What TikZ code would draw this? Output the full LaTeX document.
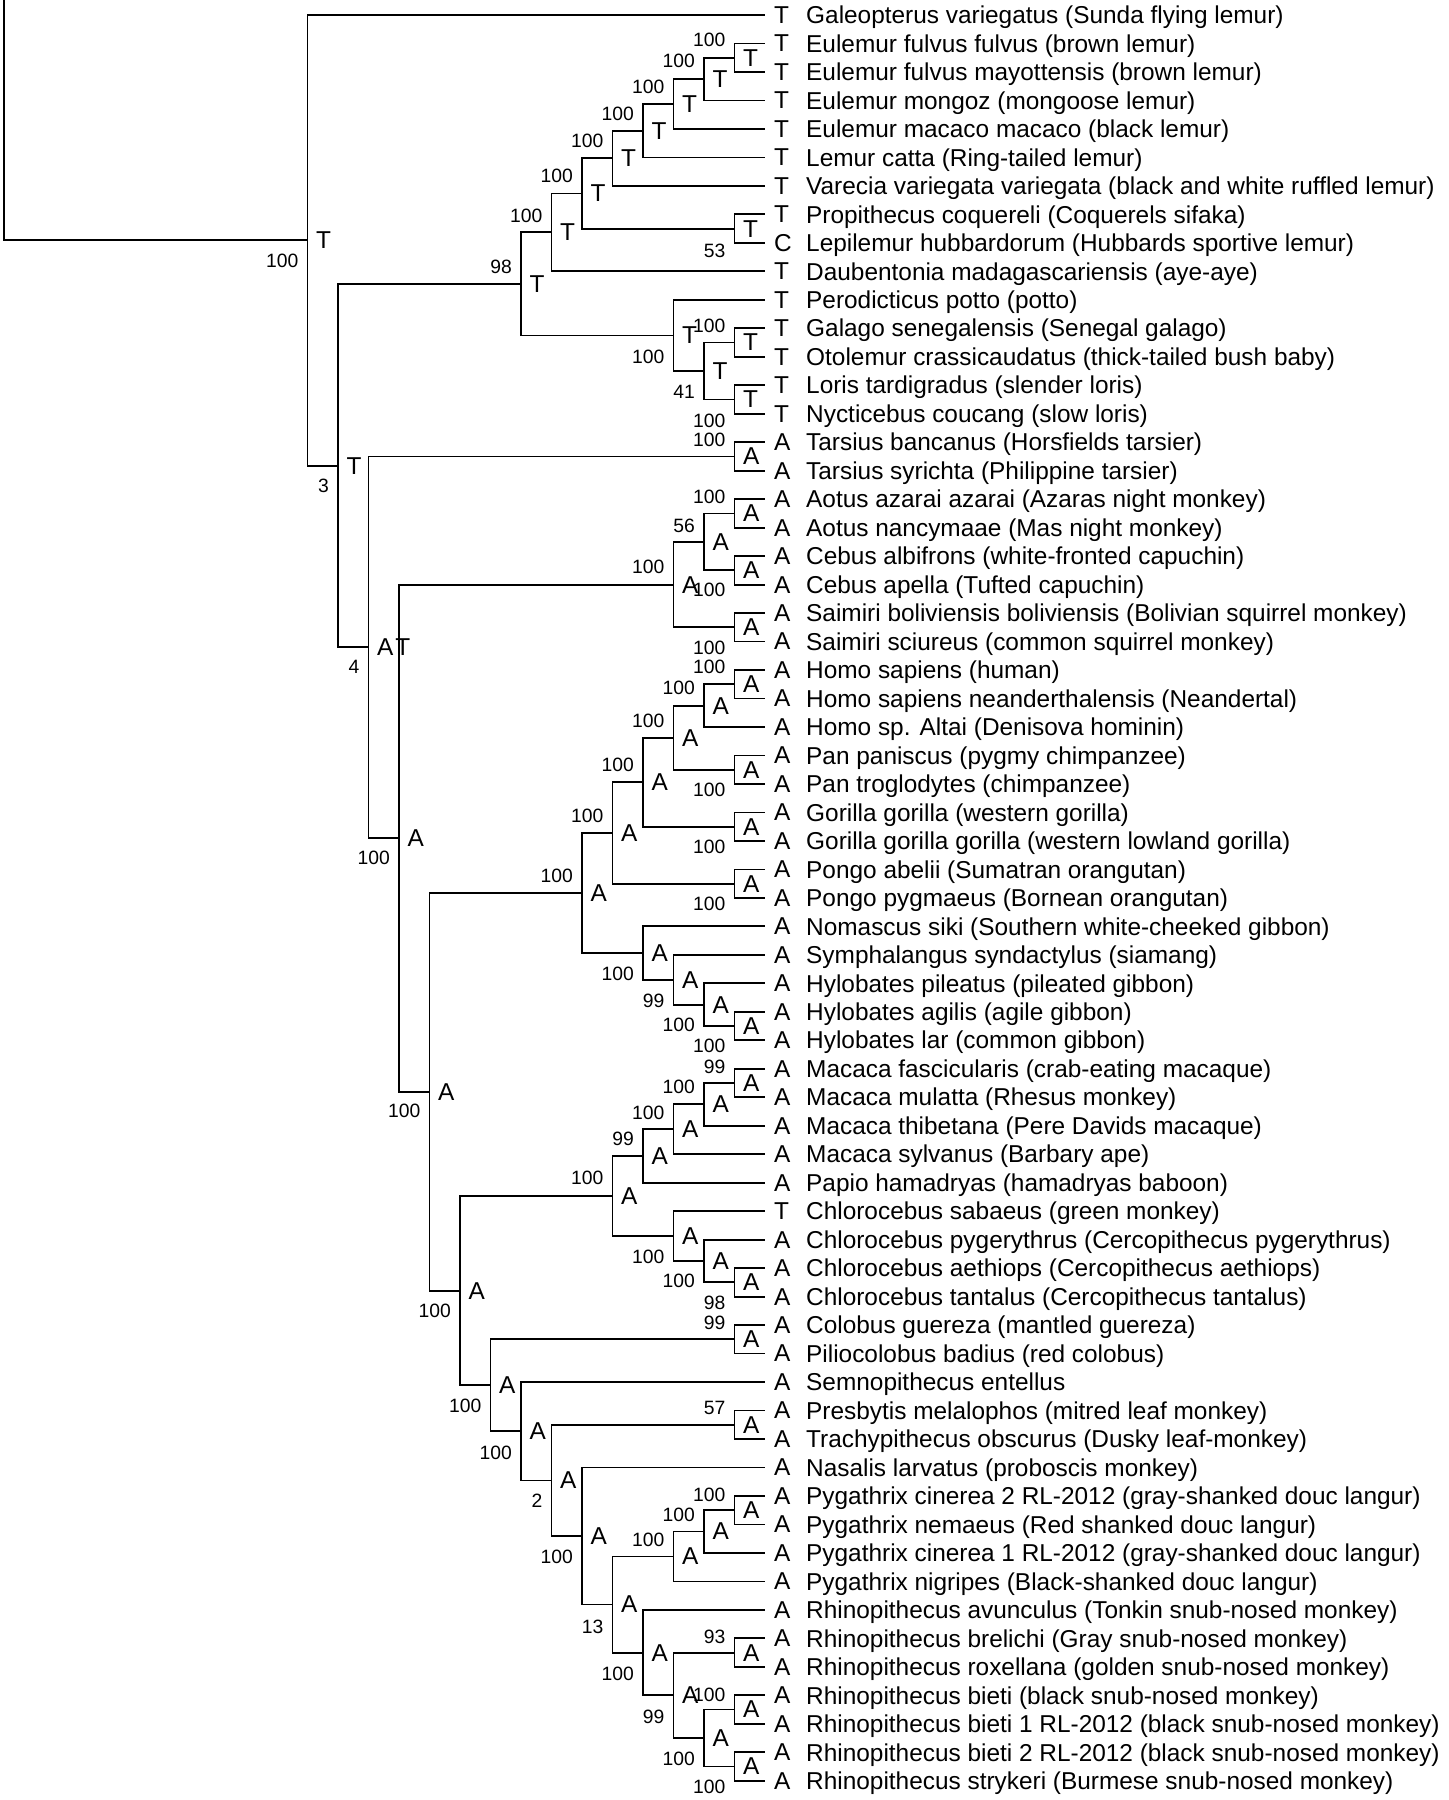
\documentclass[tikz,border=0pt]{standalone}
\usepackage{fontspec}
\setmainfont{Liberation Sans}
\usepackage{tikz}
\usetikzlibrary{calc}

\newcommand\clade[7]{%
  \path let \p1=($(#3)!.5!(#4)$) in coordinate (#1) at ({765pt-30.5pt*#2},\y1);
  \draw[branch] (#1) |- (#3) (#1) |- (#4);
  \node[state] (#1-s) at ([xshift=8.5pt]#1) {#5};
  \node[boot] (#1-b) at ({756-30.5*#2},#7) {#6};
}

\begin{document}
\begin{tikzpicture}[x=1pt,y=-1pt,
  branch/.style={line width=1.8pt},
  state/.style={anchor=west,inner sep=0pt,font=\fontsize{24.4}{28}\selectfont},
  leaf/.style={anchor=base west,inner sep=0pt,font=\fontsize{24.4}{28}\selectfont},
  boot/.style={anchor=east,inner sep=0pt,font=\fontsize{19.3}{22}\selectfont}]
\useasboundingbox (0,0) rectangle (1449,1800);
\foreach \st/\nm [count=\i from 0] in {
  T/Galeopterus variegatus (Sunda flying lemur),
  T/Eulemur fulvus fulvus (brown lemur),
  T/Eulemur fulvus mayottensis (brown lemur),
  T/Eulemur mongoz (mongoose lemur),
  T/Eulemur macaco macaco (black lemur),
  T/Lemur catta (Ring-tailed lemur),
  T/Varecia variegata variegata (black and white ruffled lemur),
  T/Propithecus coquereli (Coquerels sifaka),
  C/Lepilemur hubbardorum (Hubbards sportive lemur),
  T/Daubentonia madagascariensis (aye-aye),
  T/Perodicticus potto (potto),
  T/Galago senegalensis (Senegal galago),
  T/Otolemur crassicaudatus (thick-tailed bush baby),
  T/Loris tardigradus (slender loris),
  T/Nycticebus coucang (slow loris),
  A/Tarsius bancanus (Horsfields tarsier),
  A/Tarsius syrichta (Philippine tarsier),
  A/Aotus azarai azarai (Azaras night monkey),
  A/Aotus nancymaae (Mas night monkey),
  A/Cebus albifrons (white-fronted capuchin),
  A/Cebus apella (Tufted capuchin),
  A/Saimiri boliviensis boliviensis (Bolivian squirrel monkey),
  A/Saimiri sciureus (common squirrel monkey),
  A/Homo sapiens (human),
  A/Homo sapiens neanderthalensis (Neandertal),
  A/Homo sp. Altai (Denisova hominin),
  A/Pan paniscus (pygmy chimpanzee),
  A/Pan troglodytes (chimpanzee),
  A/Gorilla gorilla (western gorilla),
  A/Gorilla gorilla gorilla (western lowland gorilla),
  A/Pongo abelii (Sumatran orangutan),
  A/Pongo pygmaeus (Bornean orangutan),
  A/Nomascus siki (Southern white-cheeked gibbon),
  A/Symphalangus syndactylus (siamang),
  A/Hylobates pileatus (pileated gibbon),
  A/Hylobates agilis (agile gibbon),
  A/Hylobates lar (common gibbon),
  A/Macaca fascicularis (crab-eating macaque),
  A/Macaca mulatta (Rhesus monkey),
  A/Macaca thibetana (Pere Davids macaque),
  A/Macaca sylvanus (Barbary ape),
  A/Papio hamadryas (hamadryas baboon),
  T/Chlorocebus sabaeus (green monkey),
  A/Chlorocebus pygerythrus (Cercopithecus pygerythrus),
  A/Chlorocebus aethiops (Cercopithecus aethiops),
  A/Chlorocebus tantalus (Cercopithecus tantalus),
  A/Colobus guereza (mantled guereza),
  A/Piliocolobus badius (red colobus),
  A/Semnopithecus entellus,
  A/Presbytis melalophos (mitred leaf monkey),
  A/Trachypithecus obscurus (Dusky leaf-monkey),
  A/Nasalis larvatus (proboscis monkey),
  A/Pygathrix cinerea 2 RL-2012 (gray-shanked douc langur),
  A/Pygathrix nemaeus (Red shanked douc langur),
  A/Pygathrix cinerea 1 RL-2012 (gray-shanked douc langur),
  A/Pygathrix nigripes (Black-shanked douc langur),
  A/Rhinopithecus avunculus (Tonkin snub-nosed monkey),
  A/Rhinopithecus brelichi (Gray snub-nosed monkey),
  A/Rhinopithecus roxellana (golden snub-nosed monkey),
  A/Rhinopithecus bieti (black snub-nosed monkey),
  A/Rhinopithecus bieti 1 RL-2012 (black snub-nosed monkey),
  A/Rhinopithecus bieti 2 RL-2012 (black snub-nosed monkey),
  A/Rhinopithecus strykeri (Burmese snub-nosed monkey)}{
  \coordinate (l\i) at (765,{15+28.48*\i});
  \node[state] (l\i-s) at (774,{15+28.48*\i}) {\st};
  \node[leaf] (l\i-t) at (806,{23.7+28.48*\i}) {\nm};
}
\clade{eulA}{1}{l1}{l2}{T}{100}{39.5}
\clade{eulB}{2}{eulA}{l3}{T}{100}{61}
\clade{eulC}{3}{eulB}{l4}{T}{100}{87}
\clade{lemA}{4}{eulC}{l5}{T}{100}{114}
\clade{lemB}{5}{lemA}{l6}{T}{100}{141}
\clade{proA}{1}{l7}{l8}{T}{53}{251}
\clade{lemC}{6}{lemB}{proA}{T}{100}{176}
\clade{lemD}{7}{lemC}{l9}{T}{100}{216}
\clade{galA}{1}{l11}{l12}{T}{100}{326}
\clade{lorA}{1}{l13}{l14}{T}{100}{421}
\clade{lorB}{2}{galA}{lorA}{T}{41}{392}
\clade{lorC}{3}{l10}{lorB}{T}{100}{357}
\clade{strep}{8}{lemD}{lorC}{T}{98}{267}
\clade{tarA}{1}{l15}{l16}{A}{100}{440}
\clade{aotA}{1}{l17}{l18}{A}{100}{497}
\clade{cebA}{1}{l19}{l20}{A}{100}{590}
\clade{plaA}{2}{aotA}{cebA}{A}{56}{526}
\clade{saiA}{1}{l21}{l22}{A}{100}{648}
\clade{platy}{3}{plaA}{saiA}{A}{100}{567}
\clade{homA}{1}{l23}{l24}{A}{100}{667}
\clade{homB}{2}{homA}{l25}{A}{100}{688}
\clade{panA}{1}{l26}{l27}{A}{100}{790}
\clade{homC}{3}{homB}{panA}{A}{100}{721}
\clade{gorA}{1}{l28}{l29}{A}{100}{847}
\clade{homD}{4}{homC}{gorA}{A}{100}{765}
\clade{ponA}{1}{l30}{l31}{A}{100}{904}
\clade{hominid}{5}{homD}{ponA}{A}{100}{816}
\clade{hylA}{1}{l35}{l36}{A}{100}{1046}
\clade{hylB}{2}{l34}{hylA}{A}{100}{1025}
\clade{hylC}{3}{l33}{hylB}{A}{99}{1001}
\clade{hylD}{4}{l32}{hylC}{A}{100}{974}
\clade{hominoid}{6}{hominid}{hylD}{A}{100}{876}
\clade{macA}{1}{l37}{l38}{A}{99}{1067}
\clade{macB}{2}{macA}{l39}{A}{100}{1087}
\clade{macC}{3}{macB}{l40}{A}{100}{1113}
\clade{papA}{4}{macC}{l41}{A}{99}{1139}
\clade{chlA}{1}{l44}{l45}{A}{98}{1303}
\clade{chlB}{2}{l43}{chlA}{A}{100}{1281}
\clade{chlC}{3}{l42}{chlB}{A}{100}{1257}
\clade{cercin}{5}{papA}{chlC}{A}{100}{1178}
\clade{colA}{1}{l46}{l47}{A}{99}{1323}
\clade{preA}{1}{l49}{l50}{A}{57}{1408}
\clade{pygA}{1}{l52}{l53}{A}{100}{1495}
\clade{pygB}{2}{pygA}{l54}{A}{100}{1515}
\clade{pygC}{3}{pygB}{l55}{A}{100}{1540}
\clade{rhiA}{1}{l57}{l58}{A}{93}{1637}
\clade{rhiB}{1}{l59}{l60}{A}{100}{1695}
\clade{rhiC}{1}{l61}{l62}{A}{100}{1787}
\clade{rhiD}{2}{rhiB}{rhiC}{A}{100}{1759}
\clade{rhiE}{3}{rhiA}{rhiD}{A}{99}{1717}
\clade{rhiF}{4}{l56}{rhiE}{A}{100}{1674}
\clade{odd}{5}{pygC}{rhiF}{A}{13}{1627}
\clade{nasA}{6}{l51}{odd}{A}{100}{1557}
\clade{colB}{7}{preA}{nasA}{A}{2}{1501}
\clade{colC}{8}{l48}{colB}{A}{100}{1453}
\clade{colob}{9}{colA}{colC}{A}{100}{1406}
\clade{cercid}{10}{cercin}{colob}{A}{100}{1311}
\clade{catar}{11}{hominoid}{cercid}{A}{100}{1111}
\clade{anthro}{12}{platy}{catar}{A}{100}{858}
\clade{haplo}{13}{tarA}{anthro}{A\kern2pt T}{4}{667}
\clade{prim}{14}{strep}{haplo}{T}{3}{486}
\clade{root}{15}{l0}{prim}{T}{100}{261}
\coordinate (top) at (4,0);
\draw[branch] (top) |- (root);
\end{tikzpicture}
\end{document}
